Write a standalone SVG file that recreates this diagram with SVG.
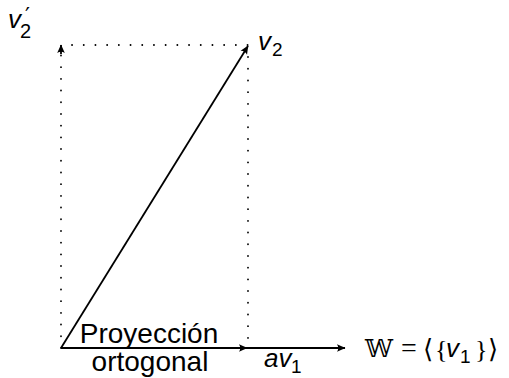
<svg xmlns="http://www.w3.org/2000/svg" width="509" height="378" viewBox="0 0 509 378">
<style>
.ln{stroke:#000;stroke-width:1.8;fill:none}
.dot{stroke:#000;stroke-width:1.8;fill:none;stroke-dasharray:0.1 11.6;stroke-linecap:round}
.sans{font-family:"Liberation Sans",Arial,sans-serif;fill:#000}
.it{font-family:"Liberation Sans",Arial,sans-serif;font-style:italic;fill:#000}
.ser{font-family:"Liberation Serif","DejaVu Serif",serif;fill:#000}
.nit{font-style:normal}
</style>
<defs>
<marker id="ah" viewBox="-10 -5 12 10" refX="0" refY="0" markerWidth="12" markerHeight="10" markerUnits="userSpaceOnUse" orient="auto">
<path d="M0.5,0 L-8,-3.8 Q-5.5,0 -8,3.8 Z" fill="#000"/>
</marker>
</defs>
<g id="connectors">
<line class="dot" x1="61" y1="348" x2="61" y2="50"/>
<line class="ln" x1="61" y1="54" x2="61" y2="45" marker-end="url(#ah)"/>
<line class="dot" x1="72" y1="45" x2="248" y2="45"/>
<line class="dot" x1="248" y1="57" x2="248" y2="348"/>
<line class="ln" x1="61" y1="348" x2="248" y2="46" marker-end="url(#ah)"/>
<line class="ln" x1="61" y1="348" x2="247" y2="348" marker-end="url(#ah)"/>
<line class="ln" x1="247" y1="348" x2="345" y2="348" marker-end="url(#ah)"/>
</g>
<g id="v2prime">
<text class="it" x="8" y="28" font-size="26">v<tspan x="25" y="23" font-family="DejaVu Sans,sans-serif" font-style="normal" font-size="22">′</tspan><tspan class="nit" x="20" y="38" font-size="20">2</tspan></text>
</g>
<g id="v2">
<text class="it" x="258" y="50" font-size="26">v<tspan class="nit" x="272" y="56" font-size="19">2</tspan></text>
</g>
<g id="label">
<text class="sans" x="149" y="343" font-size="28" text-anchor="middle">Proyección</text>
<text class="sans" x="150" y="371" font-size="28" text-anchor="middle">ortogonal</text>
</g>
<g id="av1">
<text class="it" x="264" y="367" font-size="26">av<tspan class="nit" x="291" y="373" font-size="19">1</tspan></text>
</g>
<g id="W">
<text x="365" y="357" font-size="24" textLength="28" lengthAdjust="spacingAndGlyphs" font-family="DejaVu Serif,DejaVu Sans,serif">𝕎</text>
<text class="ser" x="401" y="357" font-size="28">=</text>
<text x="423" y="358" font-size="26" font-family="DejaVu Sans,serif">⟨</text>
<text class="ser" x="435" y="358" font-size="26">{</text>
<text class="it" x="446" y="357" font-size="26">v<tspan class="nit" x="460" y="363" font-size="19">1</tspan></text>
<text class="ser" x="475" y="358" font-size="26">}</text>
<text x="488" y="358" font-size="26" font-family="DejaVu Sans,serif">⟩</text>
</g>
</svg>
